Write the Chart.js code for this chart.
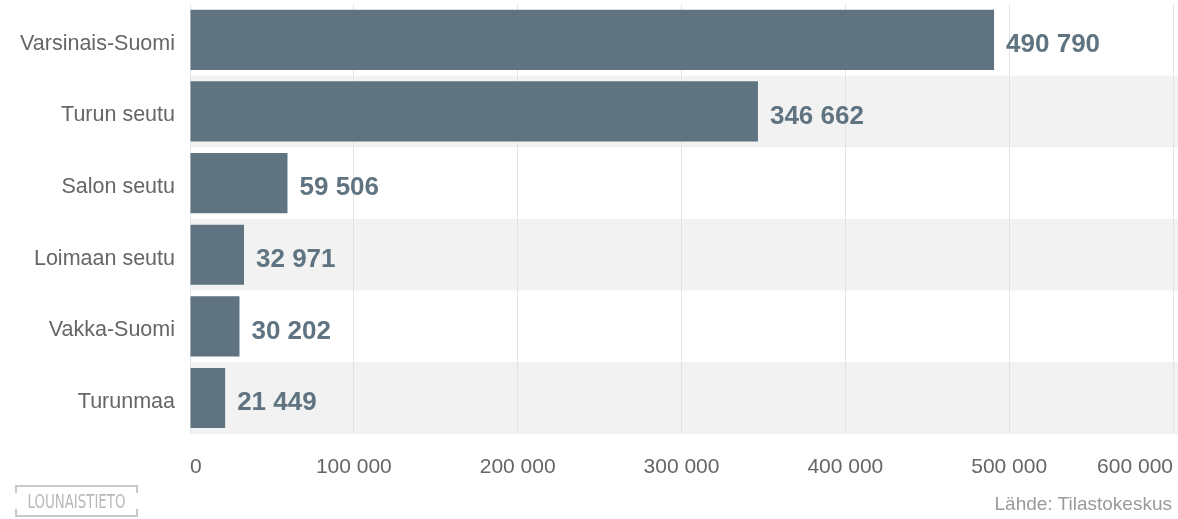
<!DOCTYPE html>
<html>
<head>
<meta charset="utf-8">
<script src="https://cdn.jsdelivr.net/npm/chart.js@4/dist/chart.umd.min.js"></script>
<style>
  html, body { margin: 0; padding: 0; background: #fff; }
  #wrap { position: relative; width: 1178px; height: 519px; overflow: hidden; }
  canvas { position: absolute; left: 0; top: 0; }
  #source { position: absolute; right: 6px; top: 493px; font-family: "Liberation Sans", Arial, sans-serif; font-size: 19px; color: #9a9a9a; }
  #logo { position: absolute; left: 15px; top: 485px; width: 123px; height: 32px; border: 2px solid #c9c9c9; box-sizing: border-box; }
  #logo .cov { position: absolute; background: #fff; top: 6px; height: 16px; width: 4px; }
  #logo .txt { position: absolute; left: -20px; right: -20px; top: 3px; text-align: center; font-family: "DejaVu Sans Condensed", "Liberation Sans Narrow", sans-serif; font-size: 19px; color: #b8b8b8; transform: scaleX(0.78); }
</style>
</head>
<body>
<div id="wrap">
  <canvas id="c" width="1178" height="519"></canvas>
  <div id="logo"><div class="cov" style="left:-3px"></div><div class="cov" style="right:-3px"></div><div class="txt">LOUNAISTIETO</div></div>
  <div id="source">Lähde: Tilastokeskus</div>
</div>
<script>
const categories = ["Varsinais-Suomi", "Turun seutu", "Salon seutu", "Loimaan seutu", "Vakka-Suomi", "Turunmaa"];
const values = [490790, 346662, 59506, 32971, 30202, 21449];
const xTicks = [0, 100000, 200000, 300000, 400000, 500000, 600000];

const fmt = v => String(v).replace(/\B(?=(\d{3})+(?!\d))/g, "\u00a0");
const BAR = "#5f7480";

const bands = {
  id: "bands",
  beforeDraw(chart) {
    const { ctx, chartArea, scales } = chart;
    const y = scales.y;
    const step = (chartArea.bottom - chartArea.top) / categories.length;
    ctx.save();
    ctx.fillStyle = "#f2f2f2";
    categories.forEach((c, i) => {
      if (i % 2 === 1) {
        const cy = y.getPixelForValue(i);
        ctx.fillRect(chartArea.left, cy - step / 2, chart.width - chartArea.left, step);
      }
    });
    ctx.restore();
  }
};

const labels = {
  id: "valueLabels",
  afterDatasetsDraw(chart) {
    const { ctx } = chart;
    const meta = chart.getDatasetMeta(0);
    ctx.save();
    ctx.font = "bold 26px 'Liberation Sans', Arial, sans-serif";
    ctx.fillStyle = BAR;
    ctx.textBaseline = "middle";
    ctx.textAlign = "left";
    meta.data.forEach((bar, i) => {
      ctx.fillText(fmt(values[i]), bar.x + 12, bar.y + 5);
    });
    ctx.restore();
  }
};

new Chart(document.getElementById("c"), {
  type: "bar",
  data: {
    labels: categories,
    datasets: [{
      data: values,
      backgroundColor: BAR,
      borderWidth: 0,
      categoryPercentage: 0.84,
      barPercentage: 1.0
    }]
  },
  options: {
    indexAxis: "y",
    responsive: false,
    animation: false,
    devicePixelRatio: 1,
    layout: { padding: { top: 4, right: 5, bottom: 18, left: 0 } },
    plugins: { legend: { display: false }, tooltip: { enabled: false } },
    scales: {
      x: {
        min: 0, max: 600000,
        afterBuildTicks(scale) { scale.ticks = xTicks.map(v => ({ value: v })); },
        afterFit(scale) { scale.paddingLeft = 0; scale.paddingRight = 0; },
        grid: { color: "#e4e4e4", drawTicks: false, lineWidth: 1 },
        border: { display: false },
        ticks: {
          align: "inner",
          padding: 21,
          color: "#666",
          font: { size: 21, family: "'Liberation Sans', Arial, sans-serif" },
          callback: v => fmt(v)
        }
      },
      y: {
        afterFit(scale) { scale.width = 190; scale.paddingTop = 0; scale.paddingBottom = 0; },
        grid: { display: false, drawTicks: false },
        border: { display: false },
        ticks: {
          padding: 15,
          labelOffset: 4,
          color: "#666",
          font: { size: 21.5, family: "'Liberation Sans', Arial, sans-serif" }
        }
      }
    }
  },
  plugins: [bands, labels]
});
</script>
</body>
</html>
